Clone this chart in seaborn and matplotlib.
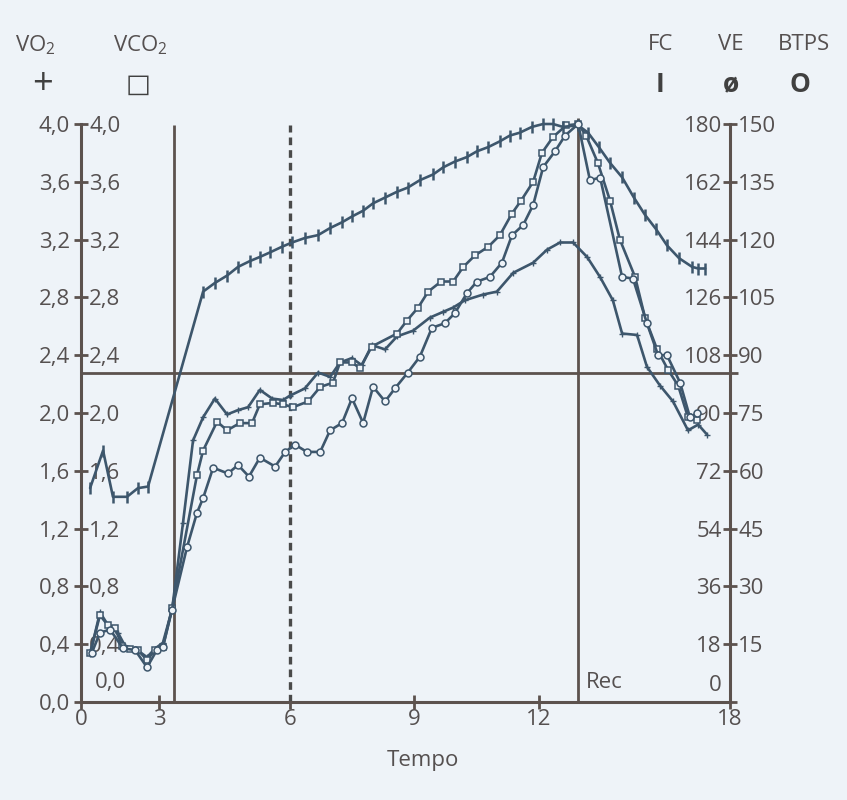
import numpy as np
import matplotlib
matplotlib.use("Agg")
import matplotlib.pyplot as plt
import seaborn as sns

# ---------------- data (Tempo in min) ----------------
VO2_T = [0.35, 0.73, 1.12, 1.42, 1.69, 2.08, 2.54, 2.85, 3.09, 3.30,
         3.55, 3.78, 4.01, 4.28, 4.56, 4.81, 5.04, 5.31, 5.59, 5.84,
         6.00, 6.36, 6.68, 6.97, 7.21, 7.50, 7.74, 7.98, 8.30, 8.59,
         8.98, 9.38, 9.70, 9.94, 10.22, 10.66, 10.99, 11.38, 11.86, 12.25,
         12.66, 13.07, 13.51, 13.92, 14.32, 14.61, 15.08, 15.39, 15.80, 16.21,
         16.68, 17.00, 17.28]
VO2_V = [0.33, 0.62, 0.51, 0.48, 0.39, 0.37, 0.31, 0.37, 0.41, 0.64,
         1.24, 1.81, 1.97, 2.10, 1.99, 2.02, 2.04, 2.16, 2.10, 2.09,
         2.12, 2.17, 2.28, 2.25, 2.35, 2.38, 2.33, 2.47, 2.44, 2.53,
         2.57, 2.66, 2.70, 2.73, 2.78, 2.82, 2.84, 2.97, 3.04, 3.13,
         3.18, 3.18, 3.08, 2.94, 2.78, 2.55, 2.54, 2.32, 2.19, 2.08,
         1.88, 1.92, 1.85]

VCO2_T = [0.35, 0.73, 1.04, 1.31, 1.58, 1.88, 2.19, 2.54, 2.85, 3.09, 3.30,
          3.87, 4.01, 4.33, 4.56, 4.85, 5.13, 5.31, 5.61, 5.84, 6.07,
          6.44, 6.73, 7.04, 7.21, 7.50, 7.69, 7.98, 8.59, 8.83, 9.10,
          9.34, 9.65, 9.94, 10.18, 10.46, 10.78, 11.06, 11.35, 11.57, 11.86,
          12.09, 12.44, 12.85, 13.23, 13.48, 13.85, 14.23, 14.54, 15.02, 15.33,
          15.71, 16.05, 16.37, 16.68, 16.97]
VCO2_V = [0.34, 0.60, 0.53, 0.51, 0.39, 0.37, 0.36, 0.29, 0.36, 0.38, 0.65,
          1.57, 1.74, 1.94, 1.88, 1.93, 1.93, 2.06, 2.07, 2.06, 2.04,
          2.08, 2.18, 2.21, 2.35, 2.35, 2.31, 2.46, 2.55, 2.64, 2.73,
          2.84, 2.91, 2.91, 3.01, 3.09, 3.15, 3.23, 3.38, 3.47, 3.60,
          3.80, 3.91, 3.99, 4.00, 3.92, 3.73, 3.47, 3.20, 2.94, 2.66,
          2.44, 2.30, 2.19, 1.97, 1.95]

FC_T = [0.35, 0.85, 1.23, 1.77, 2.19, 2.58,
        4.01, 4.28, 4.56, 4.81, 5.08, 5.31, 5.54, 5.82, 6.05, 6.36,
        6.68, 6.97, 7.26, 7.50, 7.77, 8.01, 8.30, 8.59, 8.85, 9.14,
        9.46, 9.70, 9.98, 10.27, 10.51, 10.78, 11.06, 11.30, 11.54, 11.83,
        12.13, 12.44, 12.75, 13.23, 13.54, 13.88, 14.23, 14.61, 14.98, 15.33,
        15.68, 16.02, 16.40, 16.81, 17.00, 17.22]
FC_V = [66.6, 78.3, 63.9, 63.9, 66.6, 67.1,
        127.8, 130.5, 132.8, 135.5, 137.3, 138.6, 140.0, 141.8, 143.1, 144.5,
        145.4, 147.6, 149.4, 151.2, 153.0, 155.3, 157.1, 158.9, 160.2, 162.5,
        164.3, 166.5, 168.3, 169.7, 171.5, 172.8, 174.6, 176.4, 177.3, 179.1,
        180.0, 180.0, 179.1, 179.6, 177.3, 172.8, 167.9, 163.4, 157.1, 151.7,
        147.2, 142.2, 138.2, 135.5, 135.0, 135.0]

VE_T = [0.42, 0.73, 1.12, 1.62, 2.08, 2.54, 2.92, 3.09, 3.30,
        3.64, 3.87, 4.01, 4.24, 4.58, 4.81, 5.06, 5.31, 5.66, 5.89,
        6.12, 6.41, 6.73, 6.97, 7.26, 7.50, 7.77, 8.01, 8.30, 8.54,
        8.85, 9.14, 9.43, 9.74, 9.98, 10.27, 10.51, 10.82, 11.11, 11.35,
        11.62, 11.86, 12.13, 12.50, 12.82, 13.23, 13.60, 13.92, 14.61, 14.95,
        15.39, 15.74, 16.02, 16.43, 16.74, 16.97]
VE_V = [12.8, 18.0, 18.8, 13.9, 13.5, 9.0, 13.5, 14.3, 24.0,
        40.1, 49.1, 52.9, 60.8, 59.3, 61.5, 58.5, 63.4, 61.1, 64.9,
        66.8, 64.9, 64.9, 70.5, 72.4, 78.8, 72.4, 81.8, 78.0, 81.4,
        85.5, 89.6, 97.1, 98.3, 100.9, 106.1, 109.1, 110.3, 114.0, 121.1,
        123.8, 129.0, 138.8, 142.9, 147.0, 150.0, 135.4, 136.1, 110.3, 109.9,
        98.3, 90.0, 90.0, 82.9, 73.9, 75.0]

X_TICKS = [0, 3, 6, 9, 12, 18]
VO2_TICKS = [0.0, 0.4, 0.8, 1.2, 1.6, 2.0, 2.4, 2.8, 3.2, 3.6, 4.0]
FC_TICKS = [18, 36, 54, 72, 90, 108, 126, 144, 162, 180]
VE_TICKS = [15, 30, 45, 60, 75, 90, 105, 120, 135, 150]

T_START = 3.34      # start of exercise (solid line)
T_MARK = 6          # dotted line
T_REC = 13.23       # recovery
THRESH = 2.28       # horizontal line

# --------------- style ---------------
BG = "#eef3f8"
LINE = "#3d566c"
AXC = "#5c524e"
TXT = "#555050"
FS = 16

sns.set_theme(style="white")
plt.rcParams["font.family"] = ["Open Sans", "DejaVu Sans"]
plt.rcParams["mathtext.fontset"] = "custom"
plt.rcParams["mathtext.rm"] = "Open Sans"

fig = plt.figure(figsize=(8.47, 8.0), dpi=100, facecolor=BG)
ax = fig.add_axes([0.0956, 0.1225, 0.7663, 0.7225])
ax.set_facecolor(BG)

# piecewise-linear time axis as in the reference
KX = [-3, 0, 3, 6, 9, 12, 18, 24]
KP = [-78, 0, 78, 209, 333, 458, 649, 840]
fwd = lambda x: np.interp(x, KX, KP)
inv = lambda p: np.interp(p, KP, KX)
ax.set_xscale("function", functions=(fwd, inv))
ax.set_xlim(0, 18)
ax.set_ylim(0, 4.0)

axFC = ax.twinx()
axVE = ax.twinx()
for a, top in ((axFC, 180), (axVE, 150)):
    a.set_ylim(0, top)
    a.set_axis_off()

# reference lines
ax.vlines(T_START, 0, 3.99, color=AXC, lw=2.0, zorder=1)
ax.vlines(T_MARK, 0, 3.99, color="#4a4a4a", lw=2.4, linestyles=(0, (2.3, 1.5)), zorder=1)
ax.vlines(T_REC, 0, 4.04, color=AXC, lw=2.0, zorder=1, clip_on=False)
ax.hlines(THRESH, 0, 18.25, color=AXC, lw=2.0, zorder=1, clip_on=False)

common = dict(color=LINE, lw=1.9, sort=False, estimator=None, clip_on=False)
sns.lineplot(x=VO2_T, y=VO2_V, ax=ax, marker="+", markersize=4, mew=1.0, mec=LINE, **common)
sns.lineplot(x=VCO2_T, y=VCO2_V, ax=ax, marker="s", markersize=5, mfc=BG, mec=LINE, mew=1.1, **common)
sns.lineplot(x=FC_T, y=FC_V, ax=axFC, marker="|", markersize=8, mew=1.8, mec=LINE, **common)
sns.lineplot(x=VE_T, y=VE_V, ax=axVE, marker="o", markersize=5, mfc=BG, mec=LINE, mew=1.1, **common)

# spines / ticks
for s in ("left", "bottom", "right"):
    ax.spines[s].set_visible(True)
    ax.spines[s].set_color(AXC)
    ax.spines[s].set_linewidth(2.2)
ax.spines["top"].set_visible(False)

fmt = lambda v: f"{v:.1f}".replace(".", ",")
ax.set_yticks(VO2_TICKS)
ax.set_yticklabels([fmt(v) for v in VO2_TICKS])
ax.set_xticks(X_TICKS)
ax.set_xticklabels([str(v) for v in X_TICKS])
ax.tick_params(axis="y", which="both", left=True, right=True, labelright=False,
               direction="inout", length=10, width=2.0, color=AXC,
               labelsize=FS, labelcolor=TXT, pad=3)
ax.tick_params(axis="x", which="both", bottom=True, direction="inout", length=10,
               width=2.0, color=AXC, labelsize=FS, labelcolor=TXT, pad=0)
ax.xaxis.set_minor_locator(matplotlib.ticker.NullLocator())
ax.set_xlabel("Tempo", fontsize=FS, color=TXT)
ax.xaxis.set_label_coords(0.527, -0.083)

# inner VCO2 labels on left spine
secL = ax.secondary_yaxis(0.0)
secL.set_alignment("right")
secL.set_yticks(VO2_TICKS[1:])
secL.set_yticklabels([fmt(v) for v in VO2_TICKS[1:]])
secL.tick_params(length=0, labelsize=FS, labelcolor=TXT, pad=6)
for sp in secL.spines.values():
    sp.set_visible(False)

# FC labels (left of right spine)
secFC = ax.secondary_yaxis(1.0, functions=(lambda v: v * 45, lambda f: f / 45))
secFC.set_alignment("left")
secFC.set_yticks(FC_TICKS)
secFC.set_yticklabels([str(v) for v in FC_TICKS])
secFC.tick_params(length=0, labelsize=FS, labelcolor=TXT, pad=6)
for sp in secFC.spines.values():
    sp.set_visible(False)

# VE labels (right of right spine)
secVE = ax.secondary_yaxis(1.0, functions=(lambda v: v * 37.5, lambda f: f / 37.5))
secVE.set_alignment("right")
secVE.set_yticks(VE_TICKS)
secVE.set_yticklabels([str(v) for v in VE_TICKS])
secVE.tick_params(length=0, labelsize=FS, labelcolor=TXT, pad=6)
for sp in secVE.spines.values():
    sp.set_visible(False)

# raised zero labels and Rec
ax.text(0.0216, 0.033, "0,0", transform=ax.transAxes, fontsize=FS, color=TXT,
        ha="left", va="center")
ax.text(0.9877, 0.029, "0", transform=ax.transAxes, fontsize=FS, color=TXT,
        ha="right", va="center")
ax.text(0.778, 0.033, "Rec", transform=ax.transAxes, fontsize=FS, color=TXT,
        ha="left", va="center")

# header legend
hy, sy = 0.944, 0.894
fig.text(0.0177, hy, r"VO$_\mathregular{2}$", fontsize=FS, color=TXT, ha="left", va="center")
fig.text(0.1334, hy, r"VCO$_\mathregular{2}$", fontsize=FS, color=TXT, ha="left", va="center")
fig.text(0.765, hy, "FC", fontsize=FS, color=TXT, ha="left", va="center")
fig.text(0.848, hy, "VE", fontsize=FS, color=TXT, ha="left", va="center")
fig.text(0.9185, hy, "BTPS", fontsize=FS, color=TXT, ha="left", va="center")
sym = dict(color="#404040", ha="center", va="center")
fig.text(0.0496, sy, "+", fontsize=26, **sym)
fig.text(0.163, sy, "□", family=["DejaVu Sans"], fontsize=FS + 3, fontweight="bold", **sym)
fig.text(0.779, sy, "I", fontsize=FS + 3, fontweight="bold", **sym)
fig.text(0.863, sy, "ø", fontsize=FS + 3, fontweight="bold", **sym)
fig.text(0.9445, sy, "O", fontsize=FS + 3, fontweight="bold", **sym)

fig.savefig("out.png", dpi=100, facecolor=BG)
